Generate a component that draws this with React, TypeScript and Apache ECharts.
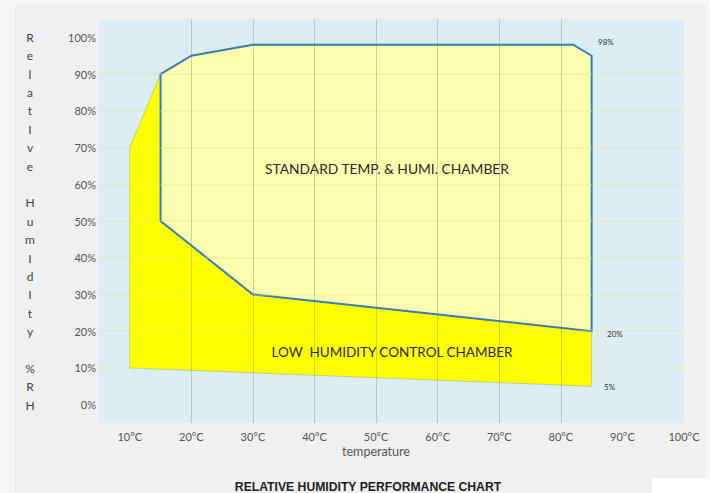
import React, { useEffect, useRef } from "react";
import * as echarts from "echarts";

// Chamber envelopes: [temperature °C, relative humidity %]
const standardChamber: [number, number][] = [
  [15, 90], [20, 95], [30, 98], [82, 98], [85, 95], [85, 20], [30, 30], [15, 50],
];
const lowHumidityChamber: [number, number][] = [
  [10, 70], [15, 90], [15, 50], [30, 30], [85, 20], [85, 5], [10, 10],
];
const xTicks = [5, 10, 20, 30, 40, 50, 60, 70, 80, 90, 100];
const yTicks = [-5, 0, 10, 20, 30, 40, 50, 60, 70, 80, 90, 100, 105];
const xLabels = [10, 20, 30, 40, 50, 60, 70, 80, 90, 100];
const yLabels = [0, 10, 20, 30, 40, 50, 60, 70, 80, 90, 100];
const yTitle = "R\ne\nl\na\nt\nI\nv\ne\n\nH\nu\nm\nI\nd\nI\nt\ny\n\n%\nR\nH";

const polygonSeries = (pts: [number, number][], style: any, z: number) => ({
  type: "custom",
  z,
  data: pts,
  encode: { x: 0, y: 1 },
  silent: true,
  renderItem: (params: any, api: any) => {
    if (params.dataIndex !== 0) return null;
    return {
      type: "polygon",
      shape: { points: pts.map((p) => api.coord(p)) },
      style,
    };
  },
});

export default function App() {
  const ref = useRef<HTMLDivElement>(null);
  useEffect(() => {
    const chart = echarts.init(ref.current!, undefined, { renderer: "svg" });
    const font = "Lato, 'Open Sans', sans-serif";
    chart.setOption({
      animation: false,
      backgroundColor: "#f0f0f0",
      grid: {
        left: 99, right: 26, top: 19, bottom: 70,
        show: true, backgroundColor: "#dcedf3", borderWidth: 0,
        containLabel: false, outerBoundsMode: "none",
      },
      xAxis: {
        type: "value", min: 5, max: 100, splitNumber: 10, minInterval: 10, maxInterval: 10,
        z: 5,
        axisLine: { show: false }, axisTick: { show: false },
        axisLabel: {
          margin: 8, fontSize: 11, color: "#555", fontFamily: font,
          formatter: (v: number) => (xLabels.includes(v) ? `${v}°C` : ""),
        },
        splitLine: {
          show: true,
          lineStyle: {
            width: 1,
            color: xTicks.map((v) => (v >= 20 && v <= 80 ? "rgba(100,120,105,0.32)" : "rgba(0,0,0,0)")),
          },
        },
      },
      yAxis: {
        type: "value", min: -5, max: 105, splitNumber: 11, minInterval: 10, maxInterval: 10,
        z: 5,
        axisLine: { show: false }, axisTick: { show: false },
        axisLabel: {
          margin: 3, fontSize: 11, color: "#555", fontFamily: font,
          formatter: (v: number) => (yLabels.includes(v) ? `${v}%` : ""),
        },
        splitLine: {
          show: true,
          lineStyle: {
            width: 1.5,
            color: yTicks.map((v) => (v >= 10 && v <= 90 ? "rgba(220,228,120,0.35)" : "rgba(0,0,0,0)")),
          },
        },
      },
      series: [
        polygonSeries(lowHumidityChamber, { fill: "#ffff00", stroke: "rgba(150,175,120,0.5)", lineWidth: 1 }, 2),
        polygonSeries(standardChamber, { fill: "#fdfdb0", stroke: "#3a7db3", lineWidth: 2 }, 3),
      ],
      graphic: [
        { type: "rect", left: 0, top: 0, shape: { width: 710, height: 5 }, style: { fill: "#f7f7f7" }, silent: true },
        { type: "rect", left: 0, top: 0, shape: { width: 14, height: 493 }, style: { fill: "#f7f7f7" }, silent: true },
        { type: "rect", left: 706, top: 0, shape: { width: 4, height: 493 }, style: { fill: "#f7f7f7" }, silent: true },
        { type: "rect", left: 652, top: 478, shape: { width: 58, height: 15 }, style: { fill: "#ffffff" }, silent: true },
        {
          type: "text", x: 30, y: 28, z: 10,
          style: { text: yTitle, fontSize: 12, lineHeight: 18.4, fill: "#444", fontFamily: font, align: "center", verticalAlign: "top" },
        },
        {
          type: "text", x: 387, y: 168, z: 10,
          style: { text: "STANDARD TEMP. & HUMI. CHAMBER", fontSize: 13.8, fill: "#2a2a2a", fontFamily: font, align: "center", verticalAlign: "middle" },
        },
        {
          type: "text", x: 392, y: 352, z: 10,
          style: { text: "LOW  HUMIDITY CONTROL CHAMBER", fontSize: 13.5, fill: "#2a2a2a", fontFamily: font, align: "center", verticalAlign: "middle" },
        },
        { type: "text", x: 598, y: 42, z: 10, style: { text: "98%", fontSize: 8, fill: "#333", fontFamily: font, verticalAlign: "middle" } },
        { type: "text", x: 607, y: 334, z: 10, style: { text: "20%", fontSize: 8, fill: "#333", fontFamily: font, verticalAlign: "middle" } },
        { type: "text", x: 604, y: 387, z: 10, style: { text: "5%", fontSize: 8, fill: "#333", fontFamily: font, verticalAlign: "middle" } },
        {
          type: "text", x: 376, y: 451, z: 10,
          style: { text: "temperature", fontSize: 12.5, fill: "#555", fontFamily: font, align: "center", verticalAlign: "middle" },
        },
        {
          type: "text", x: 368, y: 487, z: 10,
          style: { text: "RELATIVE HUMIDITY PERFORMANCE CHART", fontSize: 12.2, fontWeight: "bold", fill: "#222", fontFamily: "'Liberation Sans', Arial, sans-serif", align: "center", verticalAlign: "middle" },
        },
      ],
    });
    return () => chart.dispose();
  }, []);
  return <div ref={ref} style={{ position: "fixed", left: 0, top: 0, width: 710, height: 493 }} />;
}
